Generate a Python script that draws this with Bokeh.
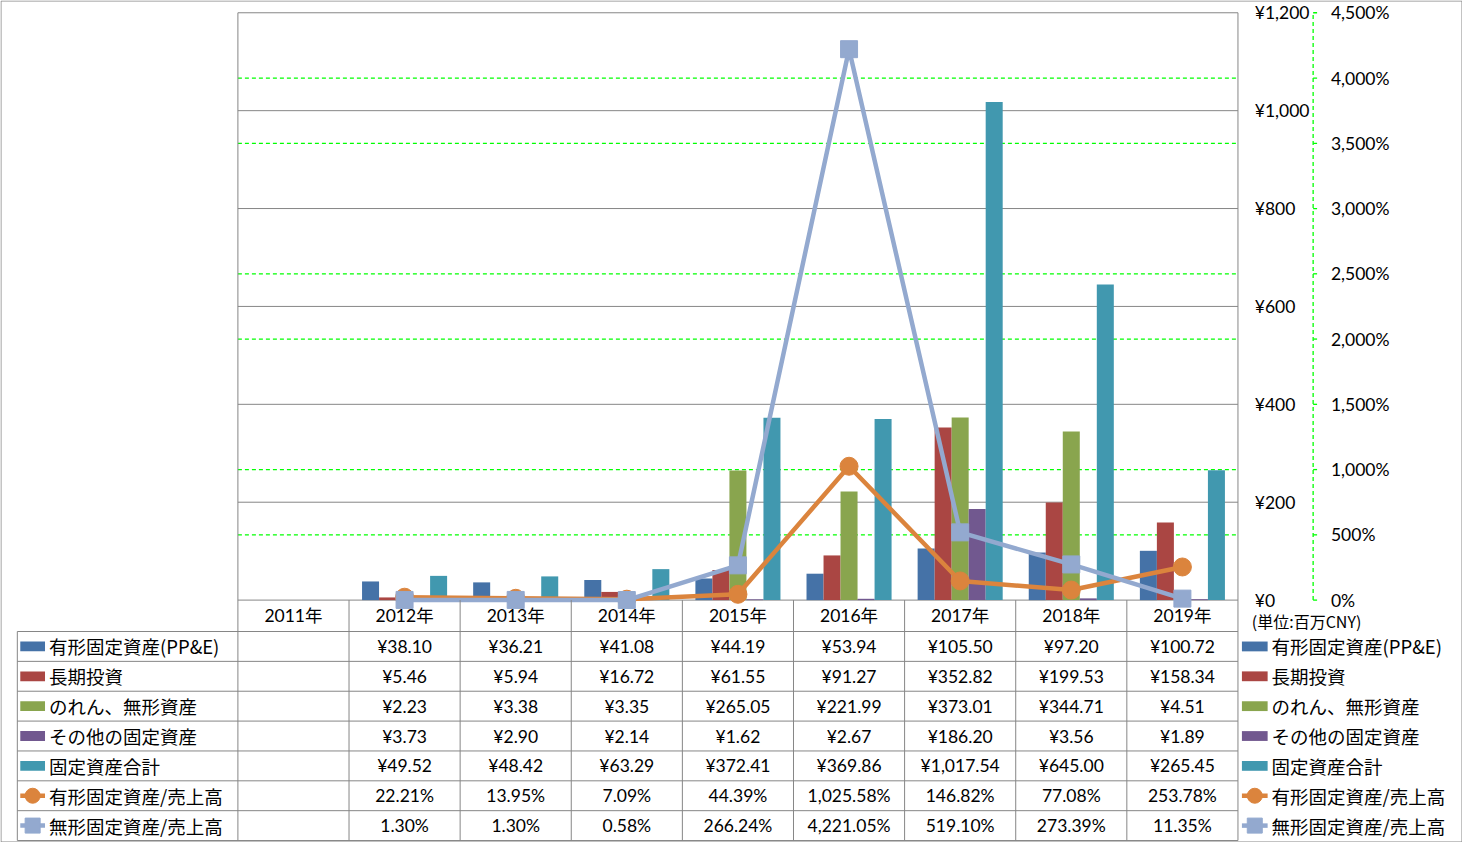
from bokeh.plotting import figure
from bokeh.models import Range1d
from bokeh.core.properties import value
from bokeh.embed import file_html
from bokeh.resources import INLINE

# ---------------- data ----------------
years = ["2011年", "2012年", "2013年", "2014年", "2015年", "2016年", "2017年", "2018年", "2019年"]
ppe = [None, 38.10, 36.21, 41.08, 44.19, 53.94, 105.50, 97.20, 100.72]
long_inv = [None, 5.46, 5.94, 16.72, 61.55, 91.27, 352.82, 199.53, 158.34]
goodwill = [None, 2.23, 3.38, 3.35, 265.05, 221.99, 373.01, 344.71, 4.51]
other_fa = [None, 3.73, 2.90, 2.14, 1.62, 2.67, 186.20, 3.56, 1.89]
total_fa = [None, 49.52, 48.42, 63.29, 372.41, 369.86, 1017.54, 645.00, 265.45]
ppe_ratio = [None, 22.21, 13.95, 7.09, 44.39, 1025.58, 146.82, 77.08, 253.78]
intang_ratio = [None, 1.30, 1.30, 0.58, 266.24, 4221.05, 519.10, 273.39, 11.35]

bar_names = ["有形固定資産(PP&E)", "長期投資", "のれん、無形資産", "その他の固定資産", "固定資産合計"]
line_names = ["有形固定資産/売上高", "無形固定資産/売上高"]
yen_ticks = [0, 200, 400, 600, 800, 1000, 1200]
pct_ticks = [0, 500, 1000, 1500, 2000, 2500, 3000, 3500, 4000, 4500]
unit_label = "(単位:百万CNY)"

bar_series = [ppe, long_inv, goodwill, other_fa, total_fa]
line_series = [ppe_ratio, intang_ratio]

# ---------------- styles / layout ----------------
bar_colors = ["#4572A7", "#AA4643", "#89A54E", "#71588F", "#4198AF"]
line_colors = ["#DB843D", "#93A9CF"]
GRAY = "#868686"
GREEN = "#00FF00"
NUM_FONT = value("Lato, Noto Sans CJK JP")
CJK_FONT = value("Noto Sans CJK JP")
NUM_SIZE = "17.5px"

REF_W, REF_H = 1478, 858           # reference canvas (px)
PLOT_L, PLOT_R = 240, 1251         # plot area left/right (px)
BASE_Y, TOP_Y = 611, 12.5          # y of 0 and of the top tick (px)
W, H = 1462, 842                   # output size

n = len(years)
ux = n / (PLOT_R - PLOT_L)
uy = yen_ticks[-1] / (BASE_Y - TOP_Y)
k_pct = pct_ticks[-1] / yen_ticks[-1]


def X(px):
    return (px - PLOT_L) * ux


def Y(py):
    return (BASE_Y - py) * uy


p = figure(width=W, height=H, output_backend="svg", toolbar_location=None,
           x_range=Range1d(X(0), X(REF_W)), y_range=Range1d(Y(REF_H), Y(0)),
           x_axis_type=None, y_axis_type=None, min_border=0,
           outline_line_color=None, background_fill_color="white",
           border_fill_color="white")
p.grid.visible = False
p.extra_y_ranges = {"pct": Range1d(Y(REF_H) * k_pct, Y(0) * k_pct)}

xl, xr = X(PLOT_L), X(PLOT_R)

# gridlines: secondary (green dashed) only where no primary gridline sits
green_ticks = [t for t in pct_ticks if all(abs(t / k_pct - y) > 1e-6 for y in yen_ticks)]
p.segment(x0=[xl] * len(green_ticks), x1=[xr] * len(green_ticks), y0=green_ticks, y1=green_ticks,
          y_range_name="pct", line_color=GREEN, line_width=1.3, line_dash="4 3")
p.segment(x0=[xl] * len(yen_ticks), x1=[xr] * len(yen_ticks), y0=yen_ticks, y1=yen_ticks,
          line_color=GRAY, line_width=1)

# plot area side lines
p.segment(x0=[xl, xr], x1=[xl, xr], y0=[Y(TOP_Y)] * 2, y1=[Y(856)] * 2, line_color=GRAY, line_width=1)

# ---------------- bars ----------------
bw = 17.2 * ux
m = len(bar_series)
for j, (vals, col) in enumerate(zip(bar_series, bar_colors)):
    xs = [i + 0.5 + (j - (m - 1) / 2) * bw for i, v in enumerate(vals) if v is not None]
    tops = [v for v in vals if v is not None]
    p.vbar(x=xs, top=tops, bottom=0, width=bw, fill_color=col, line_color=None)

# ---------------- lines ----------------
markers = ["circle", "square"]
msize = [18, 17]
for vals, col, mk, ms in zip(line_series, line_colors, markers, msize):
    xs = [i + 0.5 for i, v in enumerate(vals) if v is not None]
    ys = [v for v in vals if v is not None]
    p.line(xs, ys, y_range_name="pct", line_color=col, line_width=4.5, line_join="round")
    p.scatter(xs, ys, y_range_name="pct", marker=mk, size=ms, fill_color=col, line_color=col)

# ---------------- right axes ----------------
p.text(x=[X(1268)] * len(yen_ticks), y=yen_ticks, text=["¥{:,}".format(t) for t in yen_ticks],
       text_font=NUM_FONT, text_font_size=NUM_SIZE, text_align="left", text_baseline="middle",
       text_color="black")
AX2 = X(1327)
p.segment(x0=[AX2], x1=[AX2], y0=[0], y1=[pct_ticks[-1]], y_range_name="pct",
          line_color=GREEN, line_width=1.3, line_dash="4 3")
p.segment(x0=[AX2] * len(pct_ticks), x1=[X(1331)] * len(pct_ticks), y0=pct_ticks, y1=pct_ticks,
          y_range_name="pct", line_color=GREEN, line_width=1.3)
p.text(x=[X(1345)] * len(pct_ticks), y=pct_ticks, text=["{:,}%".format(t) for t in pct_ticks],
       y_range_name="pct", text_font=NUM_FONT, text_font_size=NUM_SIZE, text_align="left",
       text_baseline="middle", text_color="black")
p.text(x=[X(1265)], y=[Y(632)], text=[unit_label], text_font=CJK_FONT, text_font_size="16px",
       text_align="left", text_baseline="middle", text_color="black")

# ---------------- data table ----------------
HEAD_B = 643
ROW_H = (856 - HEAD_B) / 7
row_tops = [HEAD_B + r * ROW_H for r in range(8)]
row_mid = [Y(HEAD_B + (r + 0.5) * ROW_H) for r in range(7)]

# horizontal lines
p.segment(x0=[X(17)] * 8, x1=[xr] * 8, y0=[Y(t) for t in row_tops], y1=[Y(t) for t in row_tops],
          line_color=GRAY, line_width=1)
# vertical lines
col_x = [i for i in range(1, n)]
p.segment(x0=col_x, x1=col_x, y0=[0] * len(col_x), y1=[Y(856)] * len(col_x), line_color=GRAY, line_width=1)
p.segment(x0=[X(17)], x1=[X(17)], y0=[Y(HEAD_B)], y1=[Y(856)], line_color=GRAY, line_width=1)

# header
p.text(x=[i + 0.5 for i in range(n)], y=[Y(627)] * n, text=years, text_font=NUM_FONT,
       text_font_size=NUM_SIZE, text_align="center", text_baseline="middle", text_color="black")

# cells
all_series = bar_series + line_series
for r, vals in enumerate(all_series):
    fmt = "¥{:,.2f}" if r < len(bar_series) else "{:,.2f}%"
    xs = [i + 0.5 for i, v in enumerate(vals) if v is not None]
    txt = [fmt.format(v) for v in vals if v is not None]
    p.text(x=xs, y=[row_mid[r]] * len(xs), text=txt, text_font=NUM_FONT, text_font_size=NUM_SIZE,
           text_align="center", text_baseline="middle", text_color="black")

# legend keys (left column inside table, right column outside)
names = bar_names + line_names
colors = bar_colors + line_colors
for kx0, kx1, tx in [(20, 45, 49), (1255, 1281, 1285)]:
    for r in range(len(names)):
        if r < len(bar_series):
            p.quad(left=[X(kx0)], right=[X(kx1)], top=[row_mid[r] + 5 * uy], bottom=[row_mid[r] - 5 * uy],
                   fill_color=colors[r], line_color=None)
        else:
            li = r - len(bar_series)
            p.segment(x0=[X(kx0)], x1=[X(kx1)], y0=[row_mid[r]], y1=[row_mid[r]], line_color=colors[r],
                      line_width=4.5)
            p.scatter([X((kx0 + kx1) / 2)], [row_mid[r]], marker=markers[li], size=15,
                      fill_color=colors[r], line_color=colors[r])
    p.text(x=[X(tx)] * len(names), y=row_mid, text=names, text_font=CJK_FONT, text_font_size="18.5px",
           text_align="left", text_baseline="middle", text_color="black")

# outer border
p.quad(left=[X(0.5)], right=[X(REF_W - 0.5)], top=[Y(0.5)], bottom=[Y(REF_H - 0.5)],
       fill_color=None, line_color=GRAY, line_width=1)

open("out.html", "w").write(file_html(p, INLINE))
